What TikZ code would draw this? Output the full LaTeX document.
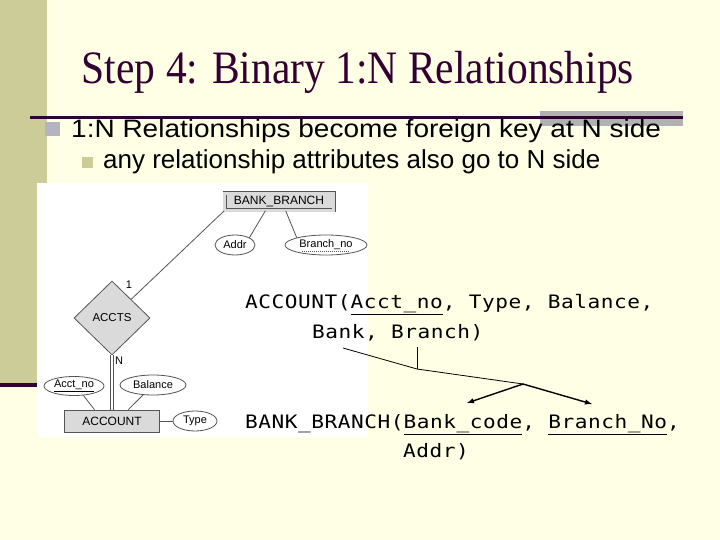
\documentclass[tikz,border=0pt]{standalone}
\usepackage{fontspec}
\usepackage{graphicx}
\setmainfont{Liberation Sans}
\newfontfamily\titlefont{Liberation Serif}
\newfontfamily\relfont[FakeStretch=1.14,LetterSpace=3]{DejaVu Sans Mono}
\usepackage{tikz}
\usetikzlibrary{shapes,arrows,positioning}
\definecolor{slidebg}{RGB}{255,255,229}
\definecolor{sidebar}{RGB}{204,204,153}
\definecolor{plum}{RGB}{51,0,51}
\definecolor{rulegray}{RGB}{178,178,178}
\definecolor{bulletgray}{RGB}{180,180,192}
\definecolor{erfill}{RGB}{218,218,218}
\definecolor{erline}{RGB}{85,85,85}
\tikzstyle{entity} = [draw=erline, fill=erfill, line width=0.8pt, minimum width=95pt,
    minimum height=22pt, inner sep=0pt, font=\fontsize{12}{13}\selectfont]
\tikzstyle{attr} = [draw=erline, ellipse, fill=white, line width=0.8pt, minimum height=20pt,
    inner sep=0pt, font=\fontsize{11}{12}\selectfont]
\tikzstyle{relship} = [draw=erline, diamond, fill=erfill, line width=0.8pt, minimum width=76pt,
    minimum height=74pt, inner sep=0pt, font=\fontsize{11.5}{12}\selectfont]
\tikzstyle{erlink} = [draw=erline, line width=0.8pt]
\tikzstyle{reltext} = [anchor=base west, inner sep=0pt,
    font=\relfont\fontsize{18.5}{20}\selectfont]

\begin{document}
\begin{tikzpicture}[x=1pt, y=-1pt, node distance=3cm]
  \fill[slidebg] (0,0) rectangle (720,540);
  \fill[sidebar] (0,0) rectangle (47,383);
  \fill[plum] (0,383) rectangle (47,387);
  \fill[rulegray] (540,111) rectangle (683,126);
  \fill[plum] (30,116) rectangle (683,119);
  \node[anchor=base, text=plum, inner sep=0pt, font=\titlefont\fontsize{41.5}{48}\selectfont]
  (title) at (358,84) {\scalebox{1}[1.12]{Step 4: Binary 1:N Relationships}};
  \fill[bulletgray] (45,122) rectangle (60,136);
  \node[anchor=base west, inner sep=0pt, font=\fontsize{28}{32}\selectfont]
  (point1) at (71,138) {\scalebox{1}[0.9]{1:N Relationships become foreign key at N side}};
  \fill[sidebar] (82,157) rectangle (93,168);
  \node[anchor=base west, inner sep=0pt, font=\fontsize{26}{30}\selectfont]
  (point2) at (103,169) {any relationship attributes also go to N side};

  \fill[white] (37,183) rectangle (368,437);
  \node[entity, double=erfill, double distance=2.4pt, minimum width=109pt,
  minimum height=17pt] (bankbranch) at (279,202) {BANK\_BRANCH};
  \node[attr, minimum width=40pt] (addr) at (235,245) {Addr};
  \node[attr, minimum width=82pt] (branchno) at (326,245) {Branch\_no};
  \draw[erline, dashed, dash pattern=on 1pt off 1pt] (branchno.center) ++(-24,6) -- ++(48,0);
  \node[relship] (accts) at (112,318) {ACCTS};
  \node[entity] (account) at (112,421) {ACCOUNT};
  \node[attr, minimum width=60pt, minimum height=19pt] (acctno) at (74,386) {\underline{Acct\_no}};
  \node[attr, minimum width=66pt] (balance) at (153,385) {Balance};
  \node[attr, minimum width=44pt, right of=account, node distance=83pt] (type) {Type};
  \node[font=\fontsize{11}{12}\selectfont, inner sep=0pt] (one) at (129,285) {1};
  \node[font=\fontsize{11}{12}\selectfont, inner sep=0pt, anchor=west] (many) at (115,361) {N};
  \draw[erlink] (bankbranch.south west) -- (accts.north east);
  \draw[erlink] (bankbranch.213) -- (addr.north east);
  \draw[erlink] (bankbranch.307) -- (branchno.north west);
  \draw[erlink, double, double distance=2pt] (accts.south) -- (account.north);
  \draw[erlink] (acctno.-45) -- (account.147);
  \draw[erlink] (balance.225) -- (account.35);
  \draw[erlink] (account.east) -- (type.west);

  \node[reltext] (accrel) at (245,308) {ACCOUNT(\underline{Acct\_no}, Type, Balance,};
  \node[reltext] (accrel2) at (312,338) {Bank, Branch)};
  \node[reltext] (bbrel) at (245,428) {BANK\_BRANCH(\underline{Bank\_code}, \underline{Branch\_No},};
  \node[reltext] (bbrel2) at (403,457) {Addr)};
  \coordinate (fkbank) at (343,348);
  \coordinate (fkbranch) at (417,347);
  \coordinate (join) at (417,369);
  \coordinate (fork) at (523,384);
  \coordinate (pkcode) at (467,403);
  \coordinate (pkbrno) at (592,404);
  \draw[line width=0.8pt] (fkbank) -- (join) -- (fork);
  \draw[line width=0.8pt] (fkbranch) -- (join);
  \draw[-latex, line width=1.4pt] (fork) -- (pkcode);
  \draw[-latex, line width=1.4pt] (fork) -- (pkbrno);
\end{tikzpicture}
\end{document}
